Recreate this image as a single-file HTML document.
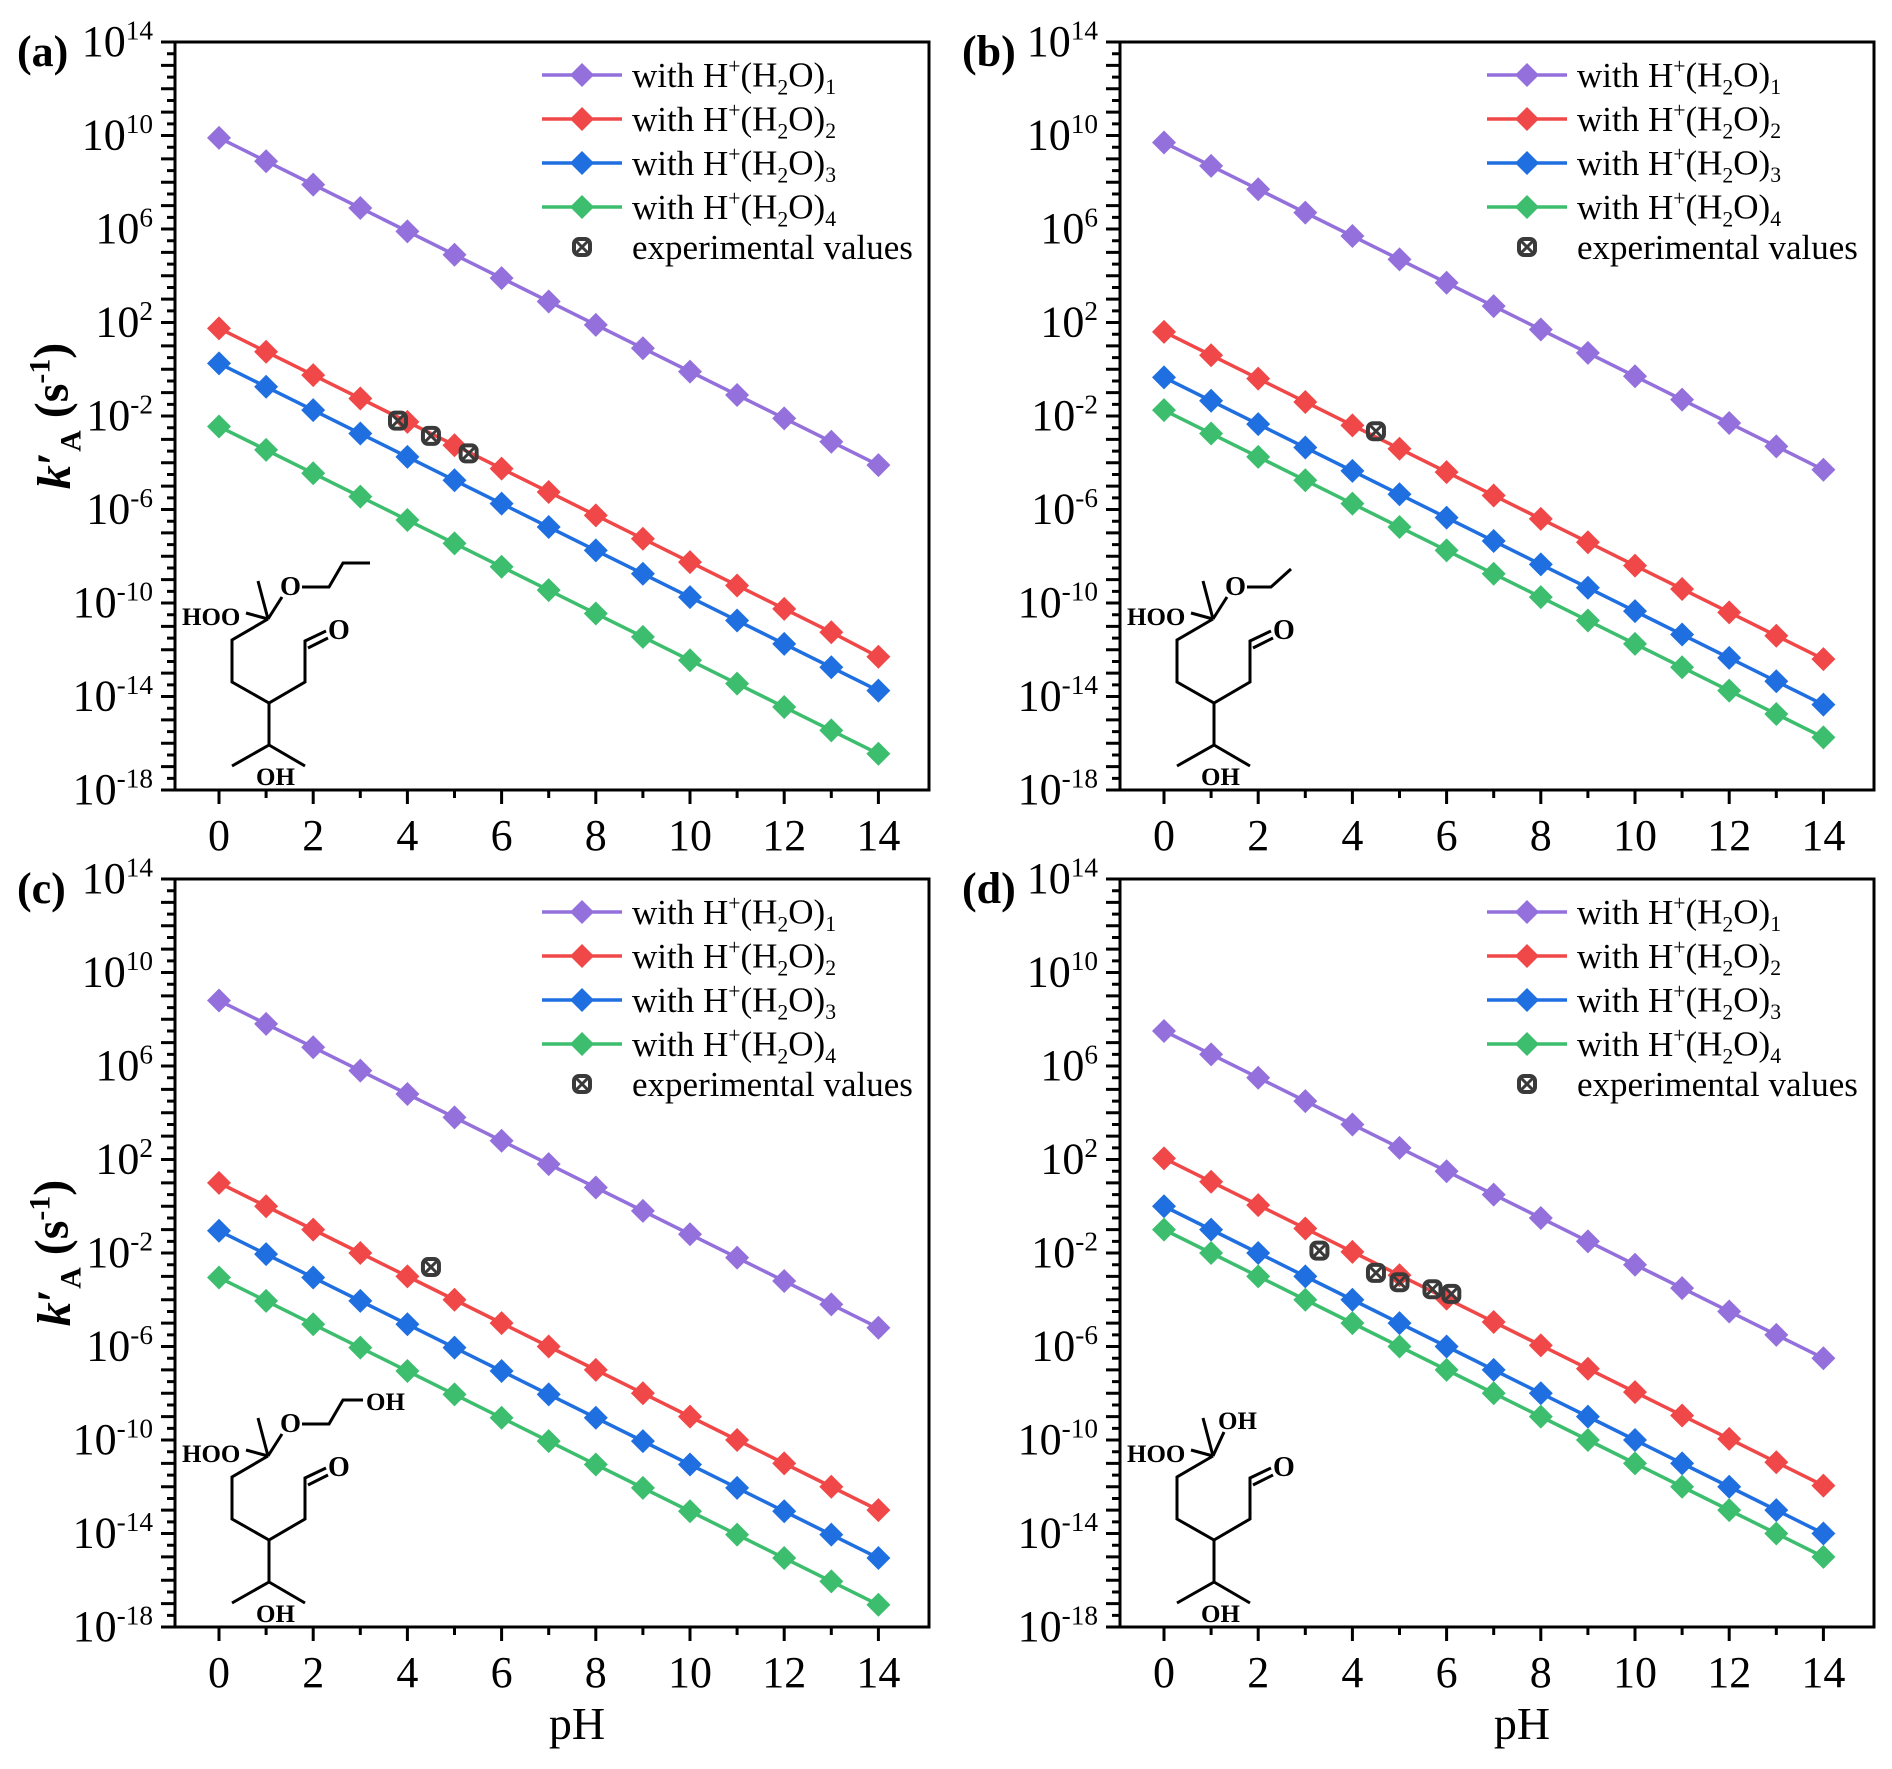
<!DOCTYPE html>
<html><head><meta charset="utf-8">
<style>
html,body{margin:0;padding:0;background:#fff;}
svg{display:block;font-family:"Liberation Serif","Times New Roman",serif;}
</style></head>
<body>
<svg id="fig" width="1892" height="1769" viewBox="0 0 1892 1769" xmlns="http://www.w3.org/2000/svg"></svg>
<script>
// ---- data ----
const pH = [0,1,2,3,4,5,6,7,8,9,10,11,12,13,14];
const seriesNames = ["with H+(H2O)1","with H+(H2O)2","with H+(H2O)3","with H+(H2O)4"];
// log10(k'A) values, panel a
const aS1 = [9.9,8.9,7.9,6.9,5.9,4.9,3.9,2.9,1.9,0.9,-0.1,-1.1,-2.1,-3.1,-4.1];
const aS2 = [1.75,0.75,-0.25,-1.25,-2.25,-3.25,-4.25,-5.25,-6.25,-7.25,-8.25,-9.25,-10.25,-11.25,-12.3];
const aS3 = [0.25,-0.75,-1.75,-2.75,-3.75,-4.75,-5.75,-6.75,-7.75,-8.75,-9.75,-10.75,-11.75,-12.75,-13.75];
const aS4 = [-2.45,-3.45,-4.45,-5.45,-6.45,-7.45,-8.45,-9.45,-10.45,-11.45,-12.45,-13.45,-14.45,-15.45,-16.45];
const aExpX = [3.8,4.5,5.3];
const aExpY = [-2.2,-2.85,-3.6];
// panel b
const bS1 = [9.7,8.7,7.7,6.7,5.7,4.7,3.7,2.7,1.7,0.7,-0.3,-1.3,-2.3,-3.3,-4.3];
const bS2 = [1.6,0.6,-0.4,-1.4,-2.4,-3.4,-4.4,-5.4,-6.4,-7.4,-8.4,-9.4,-10.4,-11.4,-12.4];
const bS3 = [-0.35,-1.35,-2.35,-3.35,-4.35,-5.35,-6.35,-7.35,-8.35,-9.35,-10.35,-11.35,-12.35,-13.35,-14.35];
const bS4 = [-1.75,-2.75,-3.75,-4.75,-5.75,-6.75,-7.75,-8.75,-9.75,-10.75,-11.75,-12.75,-13.75,-14.75,-15.75];
const bExpX = [4.5];
const bExpY = [-2.65];
// panel c
const cS1 = [8.8,7.8,6.8,5.8,4.8,3.8,2.8,1.8,0.8,-0.2,-1.2,-2.2,-3.2,-4.2,-5.2];
const cS2 = [1.0,0.0,-1.0,-2.0,-3.0,-4.0,-5.0,-6.0,-7.0,-8.0,-9.0,-10.0,-11.0,-12.0,-13.0];
const cS3 = [-1.05,-2.05,-3.05,-4.05,-5.05,-6.05,-7.05,-8.05,-9.05,-10.05,-11.05,-12.05,-13.05,-14.05,-15.05];
const cS4 = [-3.05,-4.05,-5.05,-6.05,-7.05,-8.05,-9.05,-10.05,-11.05,-12.05,-13.05,-14.05,-15.05,-16.05,-17.05];
const cExpX = [4.5];
const cExpY = [-2.6];
// panel d
const dS1 = [7.5,6.5,5.5,4.5,3.5,2.5,1.5,0.5,-0.5,-1.5,-2.5,-3.5,-4.5,-5.5,-6.5];
const dS2 = [2.05,1.05,0.05,-0.95,-1.95,-2.95,-3.95,-4.95,-5.95,-6.95,-7.95,-8.95,-9.95,-10.95,-11.95];
const dS3 = [0.0,-1.0,-2.0,-3.0,-4.0,-5.0,-6.0,-7.0,-8.0,-9.0,-10.0,-11.0,-12.0,-13.0,-14.0];
const dS4 = [-1.0,-2.0,-3.0,-4.0,-5.0,-6.0,-7.0,-8.0,-9.0,-10.0,-11.0,-12.0,-13.0,-14.0,-15.0];
const dExpX = [3.3,4.5,5.0,5.7,6.1];
const dExpY = [-1.9,-2.85,-3.25,-3.55,-3.75];
const xTicks = [0,2,4,6,8,10,12,14];
const yTickExp = [14,10,6,2,-2,-6,-10,-14,-18];

// ---- drawing ----
const NS = "http://www.w3.org/2000/svg";
const svg = document.getElementById('fig');
const colors = ["#9370DB","#F04848","#1F6FE0","#3DBE6E"];
const PW = 754, PH = 748;
function mk(tag, attrs, parent){
  const e = document.createElementNS(NS, tag);
  for (const k in attrs) e.setAttribute(k, attrs[k]);
  (parent||svg).appendChild(e);
  return e;
}
function diamond(cx, cy, r){ return `M${cx},${cy-r} L${cx+r},${cy} L${cx},${cy+r} L${cx-r},${cy} Z`; }
function expMarker(g, cx, cy, name){
  const m = mk('g', {}, g);
  
  
  mk('rect',{x:cx-8,y:cy-8,width:16,height:16,rx:5,fill:'none',stroke:'#3a3a3a','stroke-width':4},m);
  mk('path',{d:`M${cx-6},${cy-6}L${cx+6},${cy+6}M${cx+6},${cy-6}L${cx-6},${cy+6}`,stroke:'#3a3a3a','stroke-width':3},m);
}
function labelText(g, x, y, parts, size, anchor, name){
  const t = mk('text',{x:x,y:y,'font-size':size,'text-anchor':anchor||'start',fill:'#000'},g);
  
  
  parts.forEach(p=>{
    const s = mk('tspan',{},t);
    if (p[1]==='sup'){ s.setAttribute('dy', -size*0.38); s.setAttribute('font-size', size*0.62); }
    else if (p[1]==='sub'){ s.setAttribute('dy', size*0.22+(p[2]||0)); s.setAttribute('font-size', size*0.62); }
    else if (p[2]) s.setAttribute('dy', p[2]);
    if (p[3]) s.setAttribute('font-style','italic');
    s.textContent = p[0];
  });
  return t;
}

function molecule(g, ox, oy, kind){
  const m = mk('g',{transform:`translate(${ox},${oy})`,stroke:'#000','stroke-width':3,fill:'none'},g);
  
  
  const L = (d)=>mk('path',{d:d},m);
  L('M0,0 L-10,-38');
  L('M0,0 L-22,-6');
  L('M0,0 L-36,21 L-36,63 L1,84 L37,63 L37,22 L58,12');
  L('M40,29 L60,19');
  L('M1,84 L1,126 L-36,147 M1,126 L37,147');
  const T = (x,y,s,fs)=>{ const t=mk('text',{x:x,y:y,'font-size':fs||25,'font-weight':'bold',fill:'#000',stroke:'none'},m); t.textContent=s; return t; };
  T(-86,6,'HOO');
  T(60,20,'O',28);
  T(-12,166,'OH');
  if (kind==='d'){
    L('M0,0 L11,-24');
    T(5,-27,'OH');
  } else {
    L('M0,0 L14,-22');
    T(12,-24,'O',27);
    if (kind==='a') L('M34,-32 L61,-32 L75,-56 L102,-56');
    if (kind==='b') L('M34,-32 L58,-32 L78,-50');
    if (kind==='c'){ L('M34,-32 L61,-32 L75,-56 L95,-56'); T(98,-46,'OH'); }
  }
}

function panel(px, py, key, lab, S, ex, ey, showPH){
  const g = mk('g',{});
  
  
  const xs = v => px + 44 + v*47.1;
  const ys = v => py + (14 - v) * PH/32;
  const fr = mk('rect',{x:px,y:py,width:PW,height:PH,fill:'none',stroke:'#000','stroke-width':3},g);
  
  
  let d='';
  for (let e=14;e>=-18;e--){ const y=ys(e); d+=`M${px},${y}L${px-14},${y}`; if(e>-18){const y2=ys(e-0.5); d+=`M${px},${y2}L${px-8},${y2}`;} }
  for (let v=0; v<=14; v++){ const x=xs(v); d+=`M${x},${py+PH}L${x},${py+PH+(v%2===0?14:8)}`; }
  const tk = mk('path',{d:d,stroke:'#000','stroke-width':3},g);
  
  
  yTickExp.forEach(e=>{
    labelText(g, px-22, ys(e)+14, [['10'],[String(e),'sup']], 44, 'end', 'y-tick-label');
  });
  xTicks.forEach(v=>{
    const t = mk('text',{x:xs(v),y:py+PH+60,'font-size':44,'text-anchor':'middle'},g);
    
    
    t.textContent = v;
  });
  if (showPH){
    const t = mk('text',{x:px+PW/2+25,y:py+PH+112,'font-size':46,'text-anchor':'middle'},g);
    
    
    t.textContent='pH';
  }
  if (px < 500){
    const yc = py + 374;
    const t = labelText(g, 0, 0, [["k",null,0,true],["′"],["A","sub"],[" (s",null,-13],["-1","sup"],[")",null,17]], 48, 'middle', 'y-axis-title');
    t.setAttribute('transform',`translate(70,${yc}) rotate(-90)`);
    t.setAttribute('font-weight','bold');
  }
  const pl = mk('text',{x:px-158,y:py+24,'font-size':44,'font-weight':'bold'},g);
  
  
  pl.textContent = lab;
  molecule(g, px+93, py+577, key);
  S.forEach((arr,i)=>{
    const sg = mk('g',{},g);
    
    
    mk('polyline',{points:arr.map((v,j)=>xs(pH[j])+','+ys(v)).join(' '),fill:'none',stroke:colors[i],'stroke-width':3.5},sg);
    arr.forEach((v,j)=>{
      const p = mk('path',{d:diamond(xs(pH[j]),ys(v),12),fill:colors[i]},sg);
      
      
    });
  });
  ex.forEach((x,j)=>expMarker(g, xs(x), ys(ey[j]), 'experimental-point'));
  const lg = mk('g',{},g);
  
  
  const lx = px+367, rows=[33,77,121,165];
  rows.forEach((ry,i)=>{
    const y=py+ry;
    mk('path',{d:`M${lx},${y}L${lx+80},${y}`,stroke:colors[i],'stroke-width':3.5},lg);
    mk('path',{d:diamond(lx+40,y,12),fill:colors[i]},lg);
    labelText(lg, lx+90, y+12, [['with H'],['+','sup'],['(H',null,13],['2','sub'],['O)',null,-8],[String(i+1),'sub']], 35, 'start', 'legend-entry');
  });
  expMarker(lg, lx+40, py+205, 'legend-experimental-marker');
  labelText(lg, lx+90, py+217, [['experimental values']], 35, 'start', 'legend-entry');
}

panel(175, 42, 'a', '(a)', [aS1,aS2,aS3,aS4], aExpX, aExpY, false);
panel(1120, 42, 'b', '(b)', [bS1,bS2,bS3,bS4], bExpX, bExpY, false);
panel(175, 879, 'c', '(c)', [cS1,cS2,cS3,cS4], cExpX, cExpY, true);
panel(1120, 879, 'd', '(d)', [dS1,dS2,dS3,dS4], dExpX, dExpY, true);
</script>
</body></html>
